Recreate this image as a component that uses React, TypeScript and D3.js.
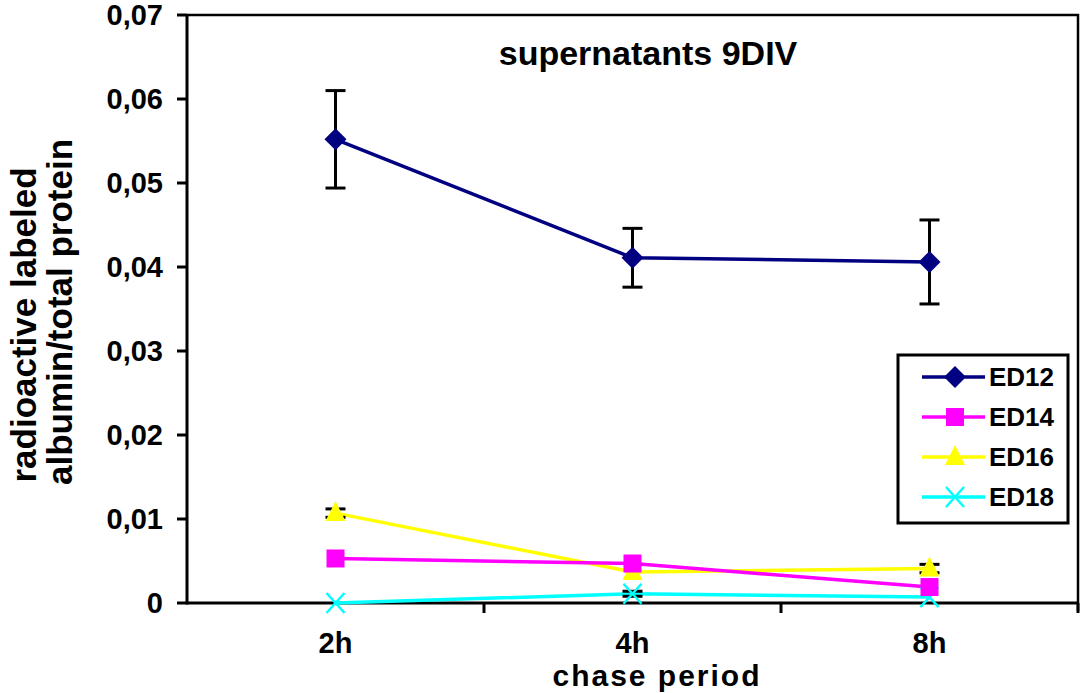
import React, { useEffect, useRef } from "react";
import * as d3 from "d3";

// datos
const categories = ["2h", "4h", "8h"];
const seriesNames = ["ED12", "ED14", "ED16", "ED18"];
const ed12 = [0.0552, 0.0411, 0.0406];
const ed12Err = [0.0058, 0.0035, 0.005];
const ed14 = [0.0053, 0.0047, 0.0019];
const ed14Err = [0, 0, 0];
const ed16 = [0.0107, 0.0037, 0.0041];
const ed16Err = [0.0005, 0, 0.0005];
const ed18 = [0, 0.0011, 0.0007];
const ed18Err = [0, 0.0003, 0];
const yTicks = [0, 0.01, 0.02, 0.03, 0.04, 0.05, 0.06, 0.07];

const colors = ["#000080", "#ff00ff", "#ffff00", "#00ffff"];
const symbols = ["diamond", "square", "triangle", "x"];

const W = 1081;
const H = 693;
const FONT = "'Liberation Sans', Arial, sans-serif";

const App = () => {
  const ref = useRef<SVGSVGElement>(null);

  useEffect(() => {
    const svg = d3.select(ref.current);
    svg.selectAll("*").remove();

    const x = d3.scalePoint<string>().domain(categories).range([187, 1078]).padding(0.5);
    const y = d3.scaleLinear().domain([0, 0.07]).range([603, 15]);
    const step = x.step();

    const series = [ed12, ed14, ed16, ed18].map((vals, i) => ({
      name: seriesNames[i],
      color: colors[i],
      symbol: symbols[i],
      values: vals,
      errs: [ed12Err, ed14Err, ed16Err, ed18Err][i],
    }));

    // marcador
    const drawMarker = (g: any, type: string, color: string, cx: number, cy: number) => {
      if (type === "diamond") {
        g.append("path")
          .attr("d", `M${cx},${cy - 11}L${cx + 11},${cy}L${cx},${cy + 11}L${cx - 11},${cy}Z`)
          .attr("fill", color);
      } else if (type === "square") {
        g.append("rect").attr("x", cx - 9).attr("y", cy - 9).attr("width", 18).attr("height", 18).attr("fill", color);
      } else if (type === "triangle") {
        g.append("path")
          .attr("d", `M${cx},${cy - 12}L${cx + 10},${cy + 8}L${cx - 10},${cy + 8}Z`)
          .attr("fill", color);
      } else {
        g.append("path")
          .attr("d", `M${cx - 9},${cy - 10}L${cx + 9},${cy + 10}M${cx - 9},${cy + 10}L${cx + 9},${cy - 10}`)
          .attr("stroke", color)
          .attr("stroke-width", 2.5)
          .attr("fill", "none");
      }
    };

    // marco y ejes
    svg.append("path")
      .attr("d", `M187,${y(0.07)}H1078V${y(0) + 8}`)
      .attr("fill", "none")
      .attr("stroke", "#000")
      .attr("stroke-width", 2.5);
    const axis = svg.append("g").attr("stroke", "#000").attr("stroke-width", 3);
    axis.append("line").attr("x1", 187).attr("x2", 187).attr("y1", y(0.07)).attr("y2", y(0) + 1.5);
    axis.append("line").attr("x1", 187).attr("x2", 1078).attr("y1", y(0)).attr("y2", y(0));
    yTicks.forEach((t) => {
      axis.append("line").attr("x1", 177).attr("x2", 187).attr("y1", y(t)).attr("y2", y(t));
    });
    categories.forEach((c) => {
      axis.append("line")
        .attr("x1", (x(c) as number) + step / 2)
        .attr("x2", (x(c) as number) + step / 2)
        .attr("y1", y(0))
        .attr("y2", y(0) + 10);
    });

    svg.append("g")
      .selectAll("text")
      .data(yTicks)
      .enter()
      .append("text")
      .attr("x", 163)
      .attr("y", (d) => y(d) + 10)
      .attr("text-anchor", "end")
      .attr("font-family", FONT)
      .attr("font-weight", "bold")
      .attr("font-size", 29)
      .text((d) => (d === 0 ? "0" : d3.format(".2f")(d).replace(".", ",")));

    svg.append("g")
      .selectAll("text")
      .data(categories)
      .enter()
      .append("text")
      .attr("x", (d) => x(d) as number)
      .attr("y", 653)
      .attr("text-anchor", "middle")
      .attr("font-family", FONT)
      .attr("font-weight", "bold")
      .attr("font-size", 29)
      .text((d) => d);

    svg.append("text")
      .attr("x", 657)
      .attr("y", 686)
      .attr("text-anchor", "middle")
      .attr("font-family", FONT)
      .attr("font-weight", "bold")
      .attr("font-size", 30)
      .attr("letter-spacing", 2)
      .text("chase period");

    const yl = svg.append("g")
      .attr("transform", "rotate(-90)")
      .attr("text-anchor", "middle")
      .attr("font-family", FONT)
      .attr("font-weight", "bold")
      .attr("font-size", 35);
    yl.append("text").attr("x", -325).attr("y", 36).text("radioactive labeled");
    yl.append("text").attr("x", -312).attr("y", 72).text("albumin/total protein");

    svg.append("text")
      .attr("x", 648)
      .attr("y", 65)
      .attr("text-anchor", "middle")
      .attr("font-family", FONT)
      .attr("font-weight", "bold")
      .attr("font-size", 34)
      .text("supernatants 9DIV");

    // series
    const line = d3.line<number>()
      .x((_, i) => x(categories[i]) as number)
      .y((d) => y(d));

    const plot = svg.append("g");
    series.slice().reverse().forEach((s) => {
      plot.append("path")
        .attr("d", line(s.values))
        .attr("fill", "none")
        .attr("stroke", s.color)
        .attr("stroke-width", 3.5);
    });
    series.slice().reverse().forEach((s) => {
      s.values.forEach((v, i) => {
        const cx = x(categories[i]) as number;
        const e = s.errs[i];
        if (e > 0) {
          const eg = plot.append("g").attr("stroke", "#000").attr("stroke-width", 3);
          eg.append("line").attr("x1", cx).attr("x2", cx).attr("y1", y(v + e)).attr("y2", y(v - e));
          eg.append("line").attr("x1", cx - 10).attr("x2", cx + 10).attr("y1", y(v + e)).attr("y2", y(v + e));
          eg.append("line").attr("x1", cx - 10).attr("x2", cx + 10).attr("y1", y(v - e)).attr("y2", y(v - e));
        }
        drawMarker(plot, s.symbol, s.color, cx, y(v));
      });
    });

    // leyenda
    const lg = svg.append("g");
    lg.append("rect")
      .attr("x", 898)
      .attr("y", 355)
      .attr("width", 170)
      .attr("height", 168)
      .attr("fill", "#fff")
      .attr("stroke", "#000")
      .attr("stroke-width", 3);
    series.forEach((s, i) => {
      const ly = 377 + i * 40;
      lg.append("line")
        .attr("x1", 922)
        .attr("x2", 985)
        .attr("y1", ly)
        .attr("y2", ly)
        .attr("stroke", s.color)
        .attr("stroke-width", 3.5);
      drawMarker(lg, s.symbol, s.color, 955, ly);
      lg.append("text")
        .attr("x", 989)
        .attr("y", ly + 9)
        .attr("font-family", FONT)
        .attr("font-weight", "bold")
        .attr("font-size", 26)
        .text(s.name);
    });
  }, []);

  return (
    <svg
      ref={ref}
      width={W}
      height={H}
      style={{ position: "absolute", left: 0, top: 0, background: "#fff" }}
    />
  );
};

export default App;
